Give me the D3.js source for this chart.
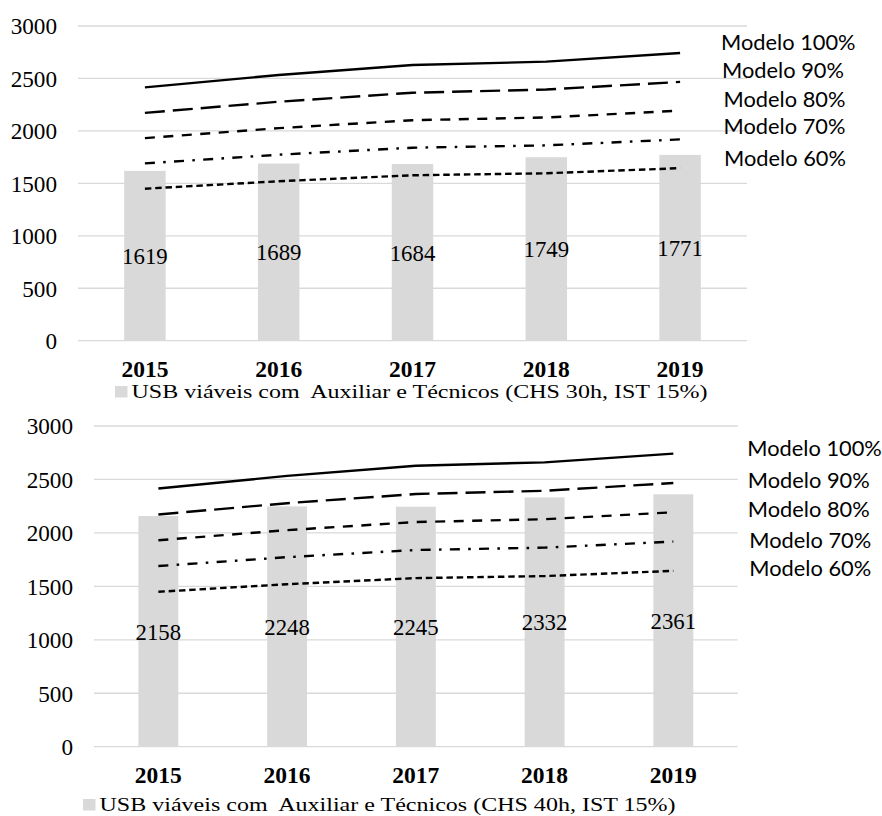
<!DOCTYPE html>
<html>
<head>
<meta charset="utf-8">
<script src="https://cdn.jsdelivr.net/npm/d3@7"></script>
<style>
  html, body { margin: 0; padding: 0; background: #fff; }
  svg { display: block; }
</style>
</head>
<body>
<svg id="chart" width="882" height="816"></svg>
<script>
// Years on the x axis
const years = ["2015", "2016", "2017", "2018", "2019"];

// Reference lines (number of units for each staffing model)
const modelNames = ["Modelo 100%", "Modelo 90%", "Modelo 80%", "Modelo 70%", "Modelo 60%"];
const modelo100 = [2415, 2533, 2628, 2660, 2742];
const modelo90  = [2172, 2278, 2364, 2394, 2467];
const modelo80  = [1931, 2026, 2102, 2128, 2193];
const modelo70  = [1690, 1773, 1840, 1862, 1919];
const modelo60  = [1449, 1520, 1577, 1596, 1645];

// Viable units (bars) for each working-hours scenario
const usb30h = [1619, 1689, 1684, 1749, 1771];
const usb40h = [2158, 2248, 2245, 2332, 2361];

const legend30h = "USB viáveis com  Auxiliar e Técnicos (CHS 30h, IST 15%)";
const legend40h = "USB viáveis com  Auxiliar e Técnicos (CHS 40h, IST 15%)";

const yTicks = [0, 500, 1000, 1500, 2000, 2500, 3000];

const models = [modelo100, modelo90, modelo80, modelo70, modelo60];
const dashes = [null, "20,8", "10,8.5", "10,8.3,2.6,8.3", "6.5,3.8"];

const SERIF = '"Liberation Serif", "Times New Roman", serif';
const SANS = 'Lato, "Noto Sans", sans-serif';

const svg = d3.select("#chart");

function drawPanel(cfg) {
  const g = svg.append("g");
  const x = d3.scaleBand().domain(years).range([cfg.left, cfg.right]);
  const y = d3.scaleLinear().domain([0, 3000]).range([cfg.bottom, cfg.top]);

  // horizontal gridlines
  g.selectAll("line.grid").data(yTicks).join("line")
    .attr("x1", cfg.left).attr("x2", cfg.right)
    .attr("y1", d => y(d)).attr("y2", d => y(d))
    .attr("stroke", "#d9d9d9").attr("stroke-width", 1.3);

  // y axis labels
  const yAxis = d3.axisLeft(y).tickValues(yTicks).tickSize(0).tickPadding(21)
    .tickFormat(d3.format("d"));
  const ya = g.append("g").attr("transform", `translate(${cfg.left},0)`).call(yAxis)
    .attr("font-family", SERIF).attr("font-size", 23.2);
  ya.select(".domain").remove();
  ya.selectAll("text").attr("fill", "#000").attr("dy", "0.34em");

  // bars
  const bw = x.bandwidth() * 0.31;
  g.selectAll("rect.bar").data(cfg.bars).join("rect")
    .attr("x", (d, i) => x(years[i]) + x.bandwidth() / 2 - bw / 2)
    .attr("y", d => y(d))
    .attr("width", bw)
    .attr("height", d => y(0) - y(d))
    .attr("fill", "#d9d9d9");

  // bar value labels, centred in each bar
  g.selectAll("text.val").data(cfg.bars).join("text")
    .attr("font-family", SERIF)
    .attr("x", (d, i) => x(years[i]) + x.bandwidth() / 2)
    .attr("y", d => y(d / 2))
    .attr("dy", "0.36em")
    .attr("text-anchor", "middle")
    .attr("font-size", 22.8)
    .text(d => d);

  // model lines
  const line = d3.line()
    .x((d, i) => x(years[i]) + x.bandwidth() / 2)
    .y(d => y(d));
  models.forEach((vals, k) => {
    g.append("path")
      .datum(vals)
      .attr("d", line)
      .attr("fill", "none")
      .attr("stroke", "#000")
      .attr("stroke-width", 2.4)
      .attr("stroke-dasharray", dashes[k]);
  });

  // model labels beside the last point
  const lastX = x(years[years.length - 1]) + x.bandwidth() / 2;
  models.forEach((vals, k) => {
    g.append("text")
      .attr("font-family", SANS)
      .attr("x", lastX + cfg.labelDx[k])
      .attr("y", y(vals[vals.length - 1]) + cfg.labelDy[k])
      .attr("font-size", 21.8)
      .attr("fill", "#000")
      .text(modelNames[k]);
  });

  // x axis year labels
  const xAxis = d3.axisBottom(x).tickSize(0).tickPadding(0);
  const xa = g.append("g").attr("transform", `translate(0,${cfg.yearBaseline})`).call(xAxis)
    .attr("font-family", SERIF).attr("font-size", 23.5).attr("font-weight", "bold");
  xa.select(".domain").remove();
  xa.selectAll("text").attr("fill", "#000").attr("dy", 0);

  // legend
  const lg = g.append("g").attr("transform", `translate(${cfg.legendX},${cfg.legendY})`);
  lg.append("rect").attr("x", 0).attr("y", -11.5).attr("width", 12.5).attr("height", 11.5)
    .attr("fill", "#d9d9d9");
  lg.append("text").attr("font-family", SERIF).attr("x", 16.5).attr("y", 0)
    .attr("font-size", 19.5).attr("fill", "#000")
    .attr("textLength", 576).attr("lengthAdjust", "spacingAndGlyphs")
    .style("white-space", "pre")
    .text(cfg.legend);
}

drawPanel({
  left: 78, right: 747, top: 26, bottom: 340.7,
  bars: usb30h, legend: legend30h,
  yearBaseline: 376.7, legendX: 115, legendY: 397.5,
  labelDx: [41, 42, 43.5, 43.5, 44], labelDy: [-3, -4, -4, -5, -2]
});

drawPanel({
  left: 94, right: 737.7, top: 426, bottom: 746.7,
  bars: usb40h, legend: legend40h,
  yearBaseline: 782.7, legendX: 83, legendY: 810.5,
  labelDx: [74, 74.5, 74.5, 76, 76], labelDy: [2.5, 5.5, 5, 6, 5]
});
</script>
</body>
</html>
